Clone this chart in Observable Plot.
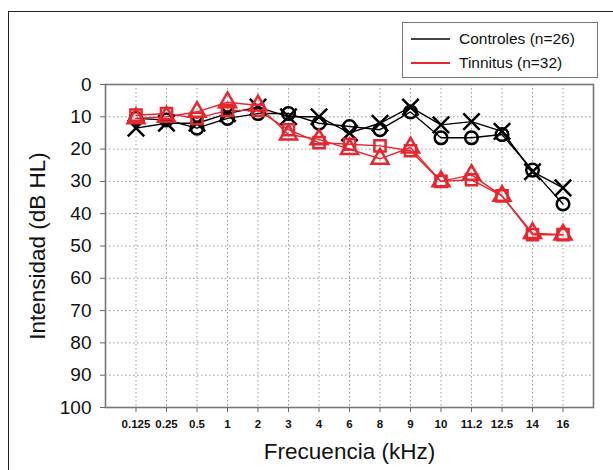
<!DOCTYPE html>
<html>
<head>
<meta charset="utf-8">
<script src="https://cdn.jsdelivr.net/npm/d3@7"></script>
<script src="https://cdn.jsdelivr.net/npm/@observablehq/plot@0.6"></script>
<style>
  html, body { margin: 0; padding: 0; background: #fff; overflow: hidden; }
  body { width: 613px; height: 470px; position: relative; font-family: "Liberation Sans", Arial, sans-serif; }
  #frame { position: absolute; left: 8px; top: 11px; width: 700px; height: 600px; border: 1.5px solid #222; box-sizing: border-box; }
  #chart { position: absolute; left: 0; top: 0; }
  #legend { position: absolute; left: 402px; top: 22px; width: 196px; height: 56px; border: 1.5px solid #777; box-sizing: border-box; background: #fff; font-size: 15.5px; color: #111; }
  .row { position: absolute; left: 8px; display: flex; align-items: center; height: 20px; }
  .sw { width: 39px; height: 1.5px; margin-right: 9px; }
</style>
</head>
<body>
<div id="frame"></div>
<div id="chart"></div>
<div id="legend">
  <div class="row" style="top:6px"><div class="sw" style="background:#444"></div>Controles (n=26)</div>
  <div class="row" style="top:30px"><div class="sw" style="background:#e8262f"></div>Tinnitus (n=32)</div>
</div>
<script>
const freqs = ["0.125","0.25","0.5","1","2","3","4","6","8","9","10","11.2","12.5","14","16"];
const yTicks = [0,10,20,30,40,50,60,70,80,90,100];
const yGrid = [10,20,30,40,50,60,70,80,90];

const ctrlCircle  = [10.5, 11, 13.5, 10.5, 9, 9, 12, 13, 14, 8.5, 16.5, 16.5, 15.5, 26.5, 37];
const ctrlCross   = [13.5, 12, 12, 9, 7, 10, 10, 15, 12, 7, 12.5, 11.5, 14.5, 27, 32];
const tinSquare   = [9.5, 9, 10.5, 8, 8, 14, 18, 18.5, 19, 20.5, 30, 29.5, 34.5, 46.5, 46.5];
const tinTriangle = [10.5, 10, 8.5, 5.5, 6.5, 15.5, 17, 20, 23, 19.5, 30, 28, 34.5, 46, 46.5];

const seriesDefs = [
  {name: "Controles O", values: ctrlCircle, color: "#000", symbol: "circle"},
  {name: "Controles X", values: ctrlCross, color: "#000", symbol: "times"},
  {name: "Tinnitus □", values: tinSquare, color: "#e8262f", symbol: "square"},
  {name: "Tinnitus Δ", values: tinTriangle, color: "#e8262f", symbol: "triangle"}
];

const marks = [
  Plot.gridX(freqs, {stroke: "#999", strokeOpacity: 1, strokeDasharray: "1.5,2.5", strokeWidth: 1}),
  Plot.gridY(yGrid, {stroke: "#999", strokeOpacity: 1, strokeDasharray: "1.5,2.5", strokeWidth: 1}),
  Plot.frame({stroke: "#777", strokeWidth: 1.6}),
  Plot.axisY({ticks: yTicks, tickSize: 5, tickPadding: 9, fontSize: 19, label: null, stroke: "#666", fill: "#111"}),
  Plot.axisX({tickSize: 5, tickPadding: 7, fontSize: 11.5, fontWeight: "bold", label: null, stroke: "#666", fill: "#111"})
];
for (const s of seriesDefs) {
  const d = freqs.map((f, i) => ({f, v: s.values[i]}));
  marks.push(Plot.line(d, {x: "f", y: "v", stroke: s.color, strokeWidth: 1.4}));
}
for (const s of seriesDefs) {
  const d = freqs.map((f, i) => ({f, v: s.values[i]}));
  marks.push(Plot.dot(d, {x: "f", y: "v", stroke: s.color, fill: "none", strokeWidth: 2.5, r: s.symbol === "times" ? 7.5 : 6.3, symbol: s.symbol}));
}
marks.push(Plot.text(["Intensidad (dB HL)"], {frameAnchor: "left", textAnchor: "middle", dx: -68, rotate: -90, fontSize: 22.5, fill: "#111"}));
marks.push(Plot.text(["Frecuencia (kHz)"], {frameAnchor: "bottom", textAnchor: "middle", dy: 51, fontSize: 22.5, fill: "#111"}));

const chart = Plot.plot({
  width: 613, height: 470,
  marginLeft: 105, marginRight: 20, marginTop: 84, marginBottom: 63,
  style: {fontFamily: "Liberation Sans, Arial, sans-serif", background: "transparent"},
  x: {type: "point", domain: freqs, padding: 1, round: false, label: null},
  y: {domain: [0, 100], reverse: true, label: null},
  marks
});
document.getElementById("chart").appendChild(chart);
</script>
</body>
</html>
